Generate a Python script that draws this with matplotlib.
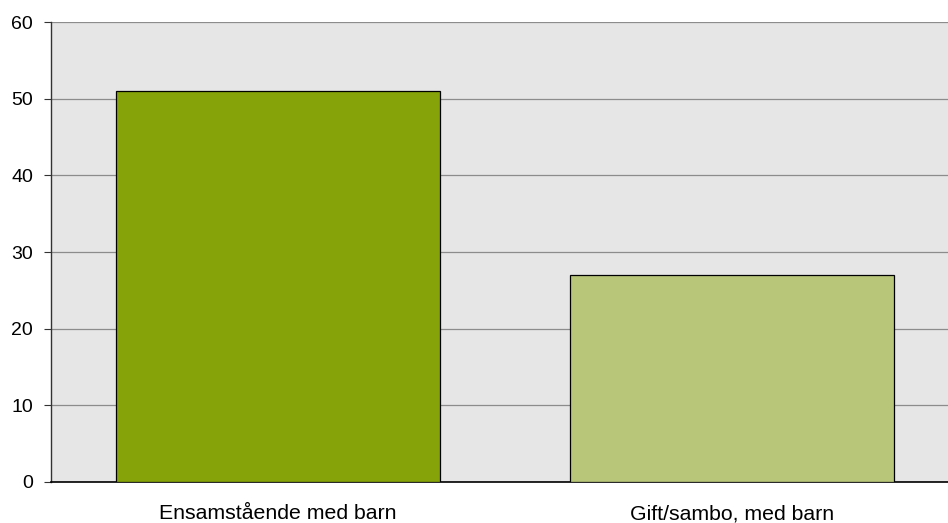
import matplotlib.pyplot as plt

# data
categories = ['Ensamstående med barn', 'Gift/sambo, med barn']
values = [51, 27]
bar_colors = ['#86A30A', '#B8C67A']
y_ticks = [0, 10, 20, 30, 40, 50, 60]

plt.rcParams['font.family'] = ['Liberation Sans', 'DejaVu Sans']

fig = plt.figure(figsize=(9.48, 5.23), dpi=100)
ax = fig.add_axes([51 / 948, 41 / 523, 1 - 51 / 948, 460 / 523])
ax.set_facecolor('#E6E6E6')

x = list(range(len(categories)))
ax.bar(x, values, width=0.714, color=bar_colors, edgecolor='black',
       linewidth=0.9, zorder=3)

ax.set_ylim(0, 60)
ax.set_xlim(-0.5, 1.476)
ax.set_yticks(y_ticks)
ax.set_xticks(x)
ax.set_xticklabels(categories)

# horizontal grid lines
ax.yaxis.grid(True, color='#8C8C8C', linewidth=0.9, zorder=1)
ax.set_axisbelow(True)

for side in ['top', 'right']:
    ax.spines[side].set_visible(False)
ax.spines['left'].set_color('#333333')
ax.spines['bottom'].set_color('black')
ax.spines['left'].set_linewidth(1.0)
ax.spines['bottom'].set_linewidth(1.2)

ax.tick_params(axis='y', length=5, width=0.8, color='#333333', pad=8,
               labelsize=14)
ax.tick_params(axis='x', length=0, pad=16, labelsize=15.3)

fig.savefig('out.png', dpi=100)
